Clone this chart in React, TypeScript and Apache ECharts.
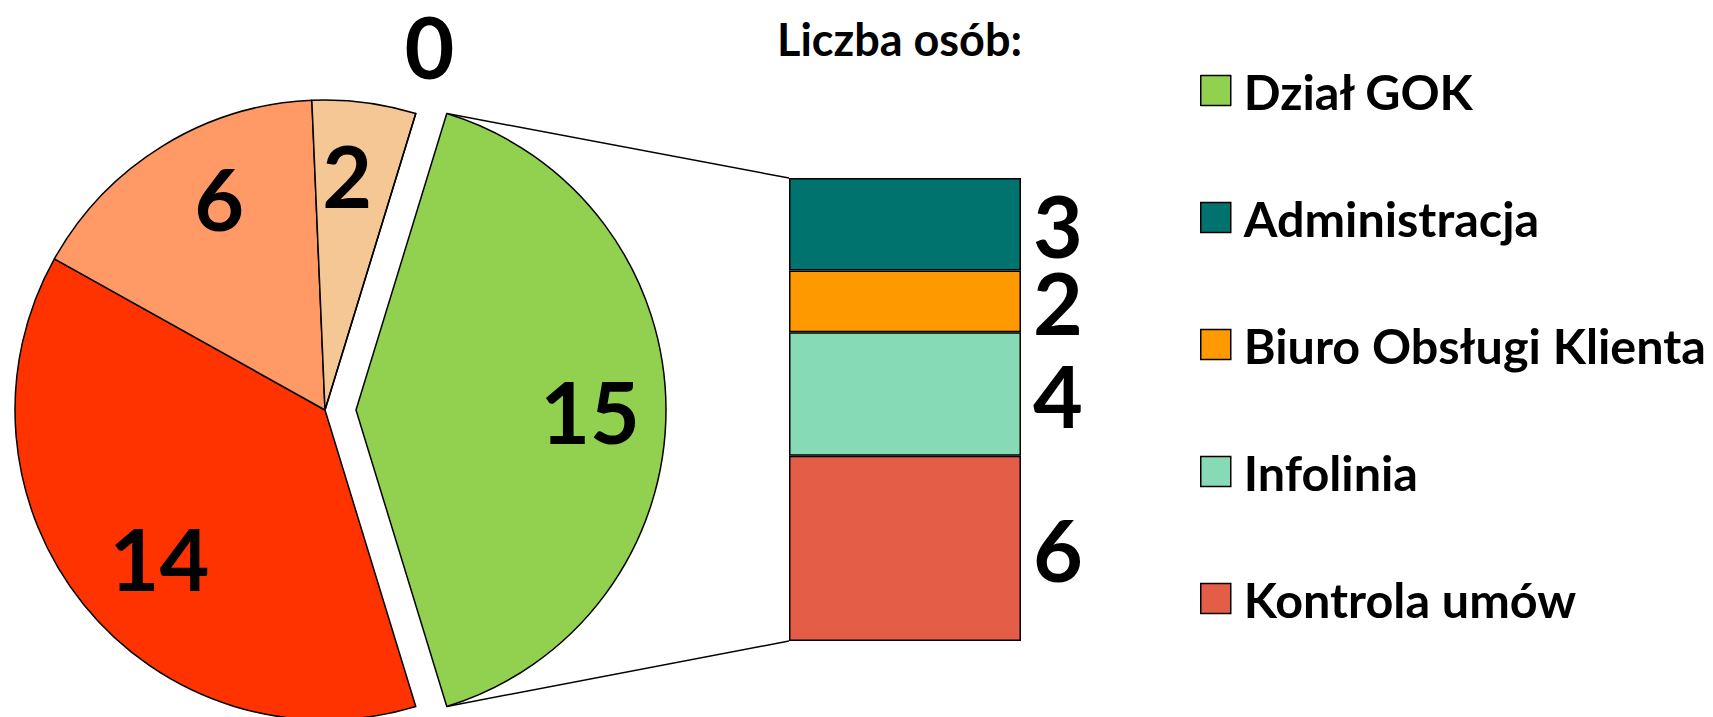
import React, { useEffect, useRef } from "react";
import * as echarts from "echarts";

// ---- data ----
const pieNames = ["Dział GOK", "Pozostałe 1", "Pozostałe 2", "Pozostałe 3", "Pozostałe 4"];
const pieValues = [15, 14, 6, 2, 0];
const pieColors = ["#92D050", "#FF3300", "#FF9966", "#F4C795", "#F4C795"];

const barCategories = ["Dział GOK"];
const barNames = ["Administracja", "Biuro Obsługi Klienta", "Infolinia", "Kontrola umów"];
const barValues = [3, 2, 4, 6];
const barColors = ["#00736F", "#FF9900", "#86DAB6", "#E45D46"];

const legendNames = ["Dział GOK", "Administracja", "Biuro Obsługi Klienta", "Infolinia", "Kontrola umów"];
const titleText = "Liczba osób:";

// label nudges to mimic the original label placement
// horizontal: padding [top, right, bottom, left]; vertical: extra empty line height (raises label)
const pieLabelPadding = [
  [0, 0, 0, 0],
  [6, 0, 0, 33],
  [0, 0, 0, 34],
  [0, 15, 0, 0],
  [0, 0, 0, 0],
];
const pieLabelRaise = [0, 0, 27, 7, 0];

const FONT = 'Lato, "Open Sans", "DejaVu Sans", sans-serif';
const PIE_CENTER = [325, 410];
const PIE_R = 310;
const EXPLODE = 31;

export default function App() {
  const ref = useRef<HTMLDivElement>(null);
  useEffect(() => {
    if (!ref.current) return;
    const chart = echarts.init(ref.current, undefined, { renderer: "svg" });
    const total = pieValues.reduce((a, b) => a + b, 0);
    const startAngle = (pieValues[0] / total) * 180;

    const pieData = pieValues.map((v, i) => ({
      name: pieNames[i],
      value: v,
      selected: i === 0,
      itemStyle: { color: pieColors[i] },
    }));

    const labelData = pieValues.map((v, i) => {
      const lbl: any = { padding: pieLabelPadding[i] };
      if (pieLabelRaise[i] > 0) {
        lbl.formatter = "{c}\n{gap|}";
        lbl.rich = { gap: { lineHeight: pieLabelRaise[i], fontSize: 8 } };
      }
      const base: any = { name: pieNames[i], value: v, selected: i === 0, label: lbl };
      if (v === 0) {
        base.label = { position: "outside", distanceToLabelLine: -32 };
        base.labelLine = { show: false, length: 71, length2: 0 };
      }
      return base;
    });

    const bigLabel = {
      fontFamily: FONT,
      fontSize: 86,
      fontWeight: "bold" as const,
      color: "#000",
      lineHeight: 60,
    };

    chart.setOption({
      animation: false,
      title: {
        text: titleText,
        left: 772,
        top: 11,
        textStyle: { fontFamily: FONT, fontSize: 45, fontWeight: "bold", color: "#000" },
      },
      legend: {
        data: legendNames,
        orient: "vertical",
        left: 1200,
        top: 66,
        padding: 0,
        itemWidth: 30,
        itemHeight: 30,
        itemGap: 78,
        icon: "rect",
        selectedMode: false,
        itemStyle: { borderColor: "#000", borderWidth: 1.5 },
        textStyle: {
          fontFamily: FONT,
          fontSize: 48.5,
          fontWeight: "bold",
          color: "#000",
          padding: [0, 0, 0, 8],
        },
      },
      grid: { left: 789, top: 178, width: 232, height: 463 },
      xAxis: { type: "category", data: barCategories, show: false },
      yAxis: { type: "value", min: 0, max: 15, inverse: true, show: false },
      series: [
        {
          type: "pie",
          center: PIE_CENTER,
          radius: PIE_R,
          startAngle,
          clockwise: true,
          selectedMode: "single",
          selectedOffset: EXPLODE,
          avoidLabelOverlap: false,
          data: pieData,
          itemStyle: { borderColor: "#000", borderWidth: 1.5 },
          label: { show: false },
          labelLine: { show: false },
          emphasis: { disabled: true },
          select: { itemStyle: { borderColor: "#000", borderWidth: 1.5 } },
        },
        {
          type: "pie",
          center: PIE_CENTER,
          radius: [152, PIE_R],
          startAngle,
          clockwise: true,
          selectedMode: "single",
          selectedOffset: EXPLODE,
          silent: true,
          avoidLabelOverlap: false,
          data: labelData,
          itemStyle: { color: "rgba(0,0,0,0)", borderWidth: 0 },
          label: { show: true, position: "inside", formatter: "{c}", ...bigLabel },
          labelLine: { show: false },
          emphasis: { disabled: true },
          select: { itemStyle: { color: "rgba(0,0,0,0)", borderWidth: 0 } },
        },
        ...barNames.map((n, i) => ({
          type: "bar",
          name: n,
          stack: "s",
          barWidth: "100%",
          data: [barValues[i]],
          itemStyle: { color: barColors[i], borderColor: "#000", borderWidth: 1.5 },
          label: { show: true, position: "right", distance: 12, ...bigLabel, lineHeight: 54 },
          emphasis: { disabled: true },
        })),
      ],
    });

    // connector lines derived from the library's layout
    try {
      const model: any = (chart as any).getModel();
      const lay = model.getSeriesByIndex(0).getData().getItemLayout(0);
      const mid = (lay.startAngle + lay.endAngle) / 2;
      const ox = lay.cx + EXPLODE * Math.cos(mid);
      const oy = lay.cy + EXPLODE * Math.sin(mid);
      const pA = [ox + lay.r * Math.cos(lay.startAngle), oy + lay.r * Math.sin(lay.startAngle)];
      const pB = [ox + lay.r * Math.cos(lay.endAngle), oy + lay.r * Math.sin(lay.endAngle)];
      const top = pA[1] < pB[1] ? pA : pB;
      const bot = pA[1] < pB[1] ? pB : pA;
      let minY = Infinity, maxY = -Infinity, bx = 0;
      for (let k = 2; k < 2 + barNames.length; k++) {
        const bl = model.getSeriesByIndex(k).getData().getItemLayout(0);
        const y1 = Math.min(bl.y, bl.y + bl.height);
        const y2 = Math.max(bl.y, bl.y + bl.height);
        minY = Math.min(minY, y1);
        maxY = Math.max(maxY, y2);
        bx = Math.min(bl.x, bl.x + bl.width);
      }
      chart.setOption({
        graphic: [
          { type: "line", z: 0, shape: { x1: top[0], y1: top[1], x2: bx, y2: minY }, style: { stroke: "#000", lineWidth: 1.5 } },
          { type: "line", z: 0, shape: { x1: bot[0], y1: bot[1], x2: bx, y2: maxY }, style: { stroke: "#000", lineWidth: 1.5 } },
        ],
      });
    } catch (e) {
      // ignore
    }

    return () => chart.dispose();
  }, []);
  return (
    <div
      ref={ref}
      style={{ position: "fixed", left: 0, top: 0, width: 1713, height: 717, background: "#fff" }}
    />
  );
}
